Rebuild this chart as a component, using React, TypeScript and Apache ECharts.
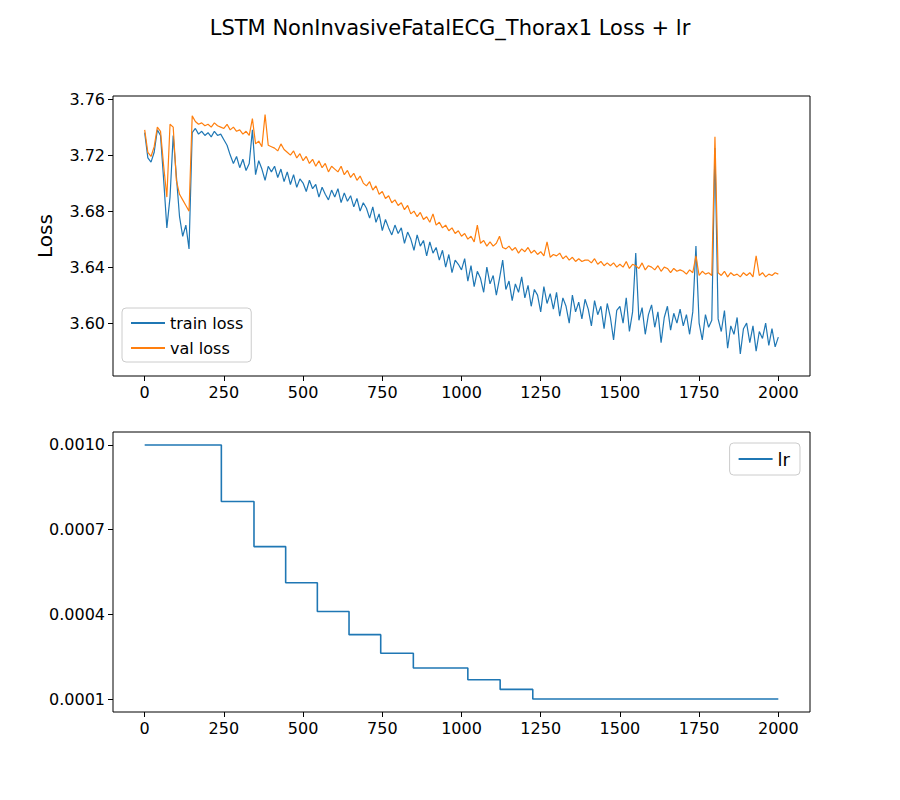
import React, { useEffect, useRef } from 'react';
import * as echarts from 'echarts';

// sampled every 10 epochs
const epochs: number[] = Array.from({ length: 201 }, (_, i) => i * 10);

const trainLoss: number[] = [
  3.736, 3.718, 3.715, 3.722, 3.738, 3.734, 3.702, 3.668, 3.690, 3.734,
  3.705, 3.676, 3.662, 3.670, 3.653, 3.736, 3.739, 3.735, 3.737, 3.734,
  3.736, 3.733, 3.737, 3.734, 3.735, 3.731, 3.727, 3.720, 3.714, 3.719,
  3.711, 3.717, 3.709, 3.714, 3.738, 3.706, 3.716, 3.710, 3.702, 3.712,
  3.708, 3.712, 3.704, 3.710, 3.701, 3.708, 3.699, 3.706, 3.697, 3.703,
  3.700, 3.694, 3.702, 3.696, 3.699, 3.690, 3.697, 3.692, 3.688, 3.695,
  3.690, 3.696, 3.686, 3.693, 3.687, 3.691, 3.683, 3.689, 3.680, 3.686,
  3.682, 3.675, 3.683, 3.672, 3.678, 3.666, 3.674, 3.668, 3.663, 3.670,
  3.664, 3.668, 3.657, 3.665, 3.660, 3.652, 3.663, 3.655, 3.659, 3.648,
  3.658, 3.650, 3.654, 3.645, 3.652, 3.640, 3.649, 3.636, 3.645, 3.642,
  3.638, 3.646, 3.630, 3.641, 3.626, 3.637, 3.632, 3.622, 3.640, 3.628,
  3.634, 3.620, 3.632, 3.645, 3.624, 3.630, 3.616, 3.628, 3.622, 3.633,
  3.618, 3.627, 3.612, 3.624, 3.620, 3.608, 3.626, 3.614, 3.621, 3.610,
  3.622, 3.605, 3.618, 3.612, 3.600, 3.620, 3.608, 3.615, 3.603, 3.617,
  3.610, 3.598, 3.616, 3.606, 3.612, 3.596, 3.614, 3.604, 3.588, 3.609,
  3.612, 3.600, 3.618, 3.594, 3.608, 3.650, 3.602, 3.611, 3.592, 3.606,
  3.613, 3.597, 3.608, 3.586, 3.604, 3.612, 3.595, 3.607, 3.600, 3.610,
  3.598, 3.606, 3.592, 3.608, 3.655, 3.600, 3.588, 3.606, 3.597, 3.602,
  3.725, 3.603, 3.594, 3.609, 3.582, 3.598, 3.592, 3.604, 3.578, 3.596,
  3.600, 3.586, 3.598, 3.580, 3.594, 3.589, 3.600, 3.584, 3.596, 3.583,
  3.590,
];

const valLoss: number[] = [
  3.738, 3.722, 3.719, 3.726, 3.740, 3.737, 3.712, 3.690, 3.742, 3.740,
  3.702, 3.692, 3.688, 3.684, 3.680, 3.748, 3.744, 3.742, 3.743, 3.741,
  3.742, 3.740, 3.743, 3.741, 3.740, 3.739, 3.742, 3.738, 3.740, 3.737,
  3.738, 3.735, 3.737, 3.734, 3.746, 3.728, 3.730, 3.726, 3.749, 3.727,
  3.726, 3.725, 3.723, 3.728, 3.724, 3.722, 3.720, 3.723, 3.718, 3.721,
  3.716, 3.719, 3.714, 3.717, 3.712, 3.716, 3.711, 3.714, 3.708, 3.712,
  3.710, 3.708, 3.712, 3.706, 3.709, 3.704, 3.707, 3.702, 3.705, 3.700,
  3.698, 3.701, 3.695, 3.698, 3.692, 3.694, 3.689, 3.691, 3.686, 3.688,
  3.684, 3.686, 3.681, 3.684, 3.678, 3.680, 3.676, 3.679, 3.674, 3.676,
  3.672, 3.678, 3.670, 3.672, 3.668, 3.670, 3.666, 3.668, 3.664, 3.666,
  3.662, 3.664, 3.660, 3.662, 3.658, 3.670, 3.657, 3.659, 3.655, 3.658,
  3.655, 3.657, 3.662, 3.654, 3.653, 3.655, 3.652, 3.654, 3.650, 3.653,
  3.651, 3.654, 3.650, 3.652, 3.649, 3.651, 3.648, 3.658, 3.647, 3.649,
  3.648, 3.650, 3.646, 3.648, 3.645, 3.647, 3.644, 3.646, 3.644, 3.645,
  3.645, 3.643, 3.646, 3.642, 3.644, 3.641, 3.643, 3.641, 3.643, 3.640,
  3.642, 3.640, 3.644, 3.639, 3.642, 3.641, 3.639, 3.643, 3.638, 3.641,
  3.640, 3.638, 3.641, 3.637, 3.640, 3.639, 3.636, 3.639, 3.637, 3.638,
  3.637, 3.635, 3.638, 3.636, 3.648, 3.634, 3.637, 3.635, 3.636, 3.634,
  3.733, 3.636, 3.634, 3.637, 3.633, 3.636, 3.634, 3.635, 3.633, 3.636,
  3.634, 3.636, 3.633, 3.648, 3.634, 3.636, 3.633, 3.635, 3.634, 3.636,
  3.635,
];

const lrEpochs: number[] = [0, 242, 345, 445, 545, 645, 745, 848, 1020, 1122, 1225, 2000];
const lrValues: number[] = [0.001, 0.0008, 0.00064, 0.000512, 0.00041, 0.000328, 0.000262, 0.00021, 0.000168, 0.000134, 0.0001, 0.0001];

const xTicks = [0, 250, 500, 750, 1000, 1250, 1500, 1750, 2000];
const lossTicks = [3.6, 3.64, 3.68, 3.72, 3.76];
const lrTicks = [0.0001, 0.0004, 0.0007, 0.001];

const FONT = 'DejaVu Sans';

const App: React.FC = () => {
  const chartRef = useRef<HTMLDivElement | null>(null);

  useEffect(() => {
    document.body.style.margin = '0';
    if (!chartRef.current) return;
    const chart = echarts.init(chartRef.current, undefined, { renderer: 'svg' });

    const tick = (values: number[]) => ({
      show: true, inside: false, length: 5, lineStyle: { color: '#000' }, customValues: values,
    });

    const xAxisBase = (gridIndex: number) => ({
      type: 'value' as const,
      gridIndex,
      min: -100,
      max: 2100,
      axisLine: { show: false, onZero: false },
      splitLine: { show: false },
      axisTick: tick(xTicks),
      axisLabel: {
        fontFamily: FONT, fontSize: 16, color: '#000', margin: 8,
        customValues: xTicks, formatter: (v: number) => String(v),
      },
    });

    const option: any = {
      animation: false,
      textStyle: { fontFamily: FONT },
      title: {
        text: 'LSTM NonInvasiveFatalECG_Thorax1 Loss + lr',
        left: 'center',
        top: 12,
        textStyle: { fontFamily: FONT, fontSize: 21, fontWeight: 'normal', color: '#000' },
      },
      grid: [
        { left: 113, right: 90, top: 96, height: 280, show: true, borderColor: '#000', borderWidth: 1 },
        { left: 113, right: 90, top: 432, height: 280, show: true, borderColor: '#000', borderWidth: 1 },
      ],
      legend: [
        {
          data: ['train loss', 'val loss'],
          orient: 'vertical',
          left: 122,
          top: 308,
          itemWidth: 34,
          itemHeight: 2,
          itemGap: 9,
          padding: [7, 8, 6, 8],
          borderColor: '#ccc',
          borderWidth: 1,
          borderRadius: 4,
          textStyle: { fontFamily: FONT, fontSize: 16, color: '#000' },
        },
        {
          data: ['lr'],
          right: 100,
          top: 443,
          itemWidth: 34,
          itemHeight: 2,
          padding: [7, 10, 7, 8],
          borderColor: '#ccc',
          borderWidth: 1,
          borderRadius: 4,
          textStyle: { fontFamily: FONT, fontSize: 18, color: '#000' },
        },
      ],
      xAxis: [xAxisBase(0), xAxisBase(1)],
      yAxis: [
        {
          type: 'value',
          gridIndex: 0,
          min: 3.5622,
          max: 3.7622,
          name: 'Loss',
          nameLocation: 'middle',
          nameGap: 58,
          nameTextStyle: { fontFamily: FONT, fontSize: 20, color: '#000' },
          axisLine: { show: false, onZero: false },
          splitLine: { show: false },
          axisTick: tick(lossTicks),
          axisLabel: {
            fontFamily: FONT, fontSize: 16, color: '#000', margin: 8,
            customValues: lossTicks,
            formatter: (v: number) => v.toFixed(2),
          },
        },
        {
          type: 'value',
          gridIndex: 1,
          min: 0.000054,
          max: 0.001046,
          axisLine: { show: false, onZero: false },
          splitLine: { show: false },
          axisTick: tick(lrTicks),
          axisLabel: {
            fontFamily: FONT, fontSize: 16, color: '#000', margin: 8,
            customValues: lrTicks,
            formatter: (v: number) => v.toFixed(4),
          },
        },
      ],
      series: [
        {
          name: 'train loss',
          type: 'line',
          xAxisIndex: 0,
          yAxisIndex: 0,
          symbol: 'none',
          color: '#1f77b4',
          lineStyle: { width: 1.2 },
          data: epochs.map((e, i) => [e, trainLoss[i]]),
        },
        {
          name: 'val loss',
          type: 'line',
          xAxisIndex: 0,
          yAxisIndex: 0,
          symbol: 'none',
          color: '#ff7f0e',
          lineStyle: { width: 1.2 },
          data: epochs.map((e, i) => [e, valLoss[i]]),
        },
        {
          name: 'lr',
          type: 'line',
          xAxisIndex: 1,
          yAxisIndex: 1,
          step: 'end',
          symbol: 'none',
          color: '#1f77b4',
          lineStyle: { width: 1.6 },
          data: lrEpochs.map((e, i) => [e, lrValues[i]]),
        },
      ],
    };

    chart.setOption(option);
    return () => {
      chart.dispose();
    };
  }, []);

  return <div ref={chartRef} style={{ width: '900px', height: '800px' }} />;
};

export default App;
